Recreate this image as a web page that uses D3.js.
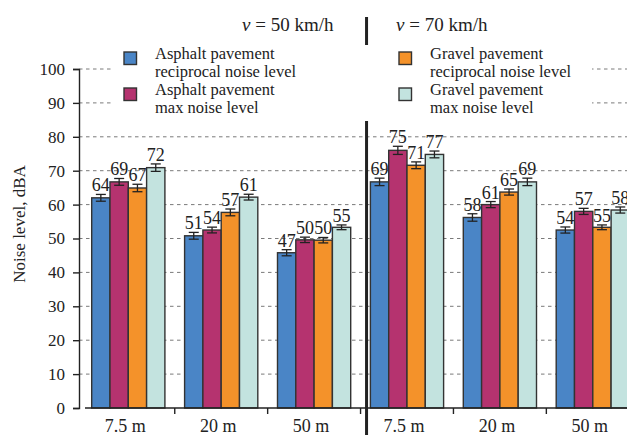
<!DOCTYPE html>
<html>
<head>
<meta charset="utf-8">
<script src="https://cdn.jsdelivr.net/npm/d3@7/dist/d3.min.js"></script>
<style>
  html, body { margin: 0; padding: 0; background: #fff; }
  svg { display: block; }
  svg text { font-family: "Liberation Serif", "Times New Roman", serif; }
</style>
</head>
<body>
<svg id="chart" width="627" height="435"></svg>
<script>
// ---- data ----
const speeds = ["50 km/h", "70 km/h"];
const distances = ["7.5 m", "20 m", "50 m"];
const seriesNames = [
  ["Asphalt pavement", "reciprocal noise level"],
  ["Asphalt pavement", "max noise level"],
  ["Gravel pavement", "reciprocal noise level"],
  ["Gravel pavement", "max noise level"]
];
const seriesColors = ["#4a85c6", "#b5336f", "#f4922a", "#c3e3df"];
// bar heights (dBA), order: 50 km/h [7.5, 20, 50 m], 70 km/h [7.5, 20, 50 m]
const asphaltRecip = [62.0, 50.8, 45.8, 66.7, 56.2, 52.5];
const asphaltMax   = [66.7, 52.5, 49.6, 76.0, 60.0, 58.0];
const gravelRecip  = [64.9, 57.7, 49.5, 71.6, 63.7, 53.3];
const gravelMax    = [70.9, 62.2, 53.3, 74.8, 66.7, 58.4];
// error half-widths (dBA)
const asphaltRecipErr = [1.0, 1.0, 0.9, 1.1, 1.1, 0.9];
const asphaltMaxErr   = [1.0, 0.85, 0.8, 1.2, 0.9, 0.9];
const gravelRecipErr  = [1.1, 1.0, 0.8, 1.0, 0.9, 0.7];
const gravelMaxErr    = [1.1, 0.85, 0.7, 1.0, 1.1, 0.9];
// printed value labels
const asphaltRecipLbl = [64, 51, 47, 69, 58, 54];
const asphaltMaxLbl   = [69, 54, 50, 75, 61, 57];
const gravelRecipLbl  = [67, 57, 50, 71, 65, 55];
const gravelMaxLbl    = [72, 61, 55, 77, 69, 58];
const yTicks = [0, 10, 20, 30, 40, 50, 60, 70, 80, 90, 100];
const yLabel = "Noise level, dBA";

const values = [asphaltRecip, asphaltMax, gravelRecip, gravelMax];
const errs = [asphaltRecipErr, asphaltMaxErr, gravelRecipErr, gravelMaxErr];
const lbls = [asphaltRecipLbl, asphaltMaxLbl, gravelRecipLbl, gravelMaxLbl];

const groupKeys = [];
speeds.forEach(s => distances.forEach(d => groupKeys.push(s + "|" + d)));

// ---- layout ----
const W = 627, H = 435;
const svg = d3.select("#chart");
const axisX = 79;
const y = d3.scaleLinear().domain([0, 100]).range([408, 69]);
const x0 = d3.scaleBand().domain(groupKeys).range([81.85, 639.25])
  .paddingInner(0.212).paddingOuter(0.106);
const x1 = d3.scaleBand().domain(d3.range(4)).range([0, x0.bandwidth()]).padding(0);

const ink = "#222";
const serif = "'Liberation Serif', 'Times New Roman', serif";

// gridlines
svg.append("g").selectAll("line").data(yTicks.filter(t => t > 0)).join("line")
  .attr("x1", axisX).attr("x2", W)
  .attr("y1", d => y(d)).attr("y2", d => y(d))
  .attr("stroke", "#7a7a7a").attr("stroke-width", 1)
  .attr("stroke-dasharray", "3.5,3.5");

// divider between speeds
const divX = (x0(groupKeys[2]) + x0.bandwidth() + x0(groupKeys[3])) / 2 + 6;
svg.append("line")
  .attr("x1", divX).attr("x2", divX).attr("y1", 17).attr("y2", H)
  .attr("stroke", ink).attr("stroke-width", 3);

// bars
const barData = [];
groupKeys.forEach((g, gi) => {
  values.forEach((arr, si) => {
    barData.push({ g, gi, si, v: arr[gi], e: errs[si][gi], l: lbls[si][gi] });
  });
});

svg.append("g").selectAll("rect").data(barData).join("rect")
  .attr("x", d => x0(d.g) + x1(d.si))
  .attr("y", d => y(d.v))
  .attr("width", x1.bandwidth())
  .attr("height", d => y(0) - y(d.v))
  .attr("fill", d => seriesColors[d.si])
  .attr("stroke", "#333").attr("stroke-width", 1.4);

// error bars
const eb = svg.append("g").attr("stroke", ink).attr("stroke-width", 1.3);
barData.forEach(d => {
  const cx = x0(d.g) + x1(d.si) + x1.bandwidth() / 2;
  eb.append("line").attr("x1", cx).attr("x2", cx).attr("y1", y(d.v + d.e)).attr("y2", y(d.v - d.e));
  eb.append("line").attr("x1", cx - 5).attr("x2", cx + 5).attr("y1", y(d.v + d.e)).attr("y2", y(d.v + d.e));
  eb.append("line").attr("x1", cx - 5).attr("x2", cx + 5).attr("y1", y(d.v - d.e)).attr("y2", y(d.v - d.e));
});

// value labels
svg.append("g").selectAll("text").data(barData).join("text")
  .attr("x", d => x0(d.g) + x1(d.si) + x1.bandwidth() / 2)
  .attr("y", d => y(d.v + d.e) - 3)
  .attr("text-anchor", "middle")
  .attr("font-size", 18).attr("fill", ink)
  .text(d => d.l);

// y axis
const yAxis = svg.append("g").attr("transform", `translate(${axisX},0)`)
  .call(d3.axisLeft(y).tickValues(yTicks).tickSize(6).tickPadding(8));
yAxis.attr("font-family", serif);
yAxis.selectAll("path, line").attr("stroke", ink).attr("stroke-width", 1.4);
yAxis.selectAll("text").attr("font-size", 17).attr("fill", ink)
  .style("font-family", serif);

// x axis line
svg.append("line").attr("x1", 85).attr("x2", W).attr("y1", y(0)).attr("y2", y(0))
  .attr("stroke", ink).attr("stroke-width", 1.4);
// x ticks at group boundaries
const step = x0.step();
const bounds = groupKeys.slice(1).map(g => x0(g) - (step - x0.bandwidth()) / 2);
svg.append("g").selectAll("line").data(bounds).join("line")
  .attr("x1", d => d).attr("x2", d => d).attr("y1", y(0)).attr("y2", y(0) + 6)
  .attr("stroke", ink).attr("stroke-width", 1.4);
// x labels
svg.append("g").selectAll("text").data(groupKeys).join("text")
  .attr("x", g => x0(g) + x0.bandwidth() / 2 - 3)
  .attr("y", 432)
  .attr("text-anchor", "middle").attr("font-size", 18).attr("fill", ink)
  .text(g => g.split("|")[1]);

// y label
svg.append("text")
  .attr("transform", "translate(25,224) rotate(-90)")
  .attr("text-anchor", "middle").attr("font-size", 17).attr("fill", ink)
  .text(yLabel);

// legend box (white, covers top gridlines and divider)
svg.append("rect").attr("x", 112).attr("y", 45).attr("width", 480).attr("height", 76)
  .attr("fill", "#fff");
const legPos = [[124, 52], [124, 88], [399, 52], [399, 88]];
seriesNames.forEach((nm, i) => {
  const [lx, ly] = legPos[i];
  svg.append("rect").attr("x", lx).attr("y", ly).attr("width", 12.5).attr("height", 12.5)
    .attr("fill", seriesColors[i]).attr("stroke", "#333").attr("stroke-width", 1.4);
  nm.forEach((line, j) => {
    svg.append("text").attr("x", lx + 31).attr("y", ly + 7 + j * 18.3)
      .attr("font-size", 16.5).attr("fill", ink).text(line);
  });
});

// headers
const hdrX = [242, 396];
speeds.forEach((s, i) => {
  const t = svg.append("text").attr("x", hdrX[i]).attr("y", 31)
    .attr("font-size", 19).attr("fill", ink);
  t.append("tspan").attr("font-style", "italic").text("v");
  t.append("tspan").text(" = " + s);
});
</script>
</body>
</html>
